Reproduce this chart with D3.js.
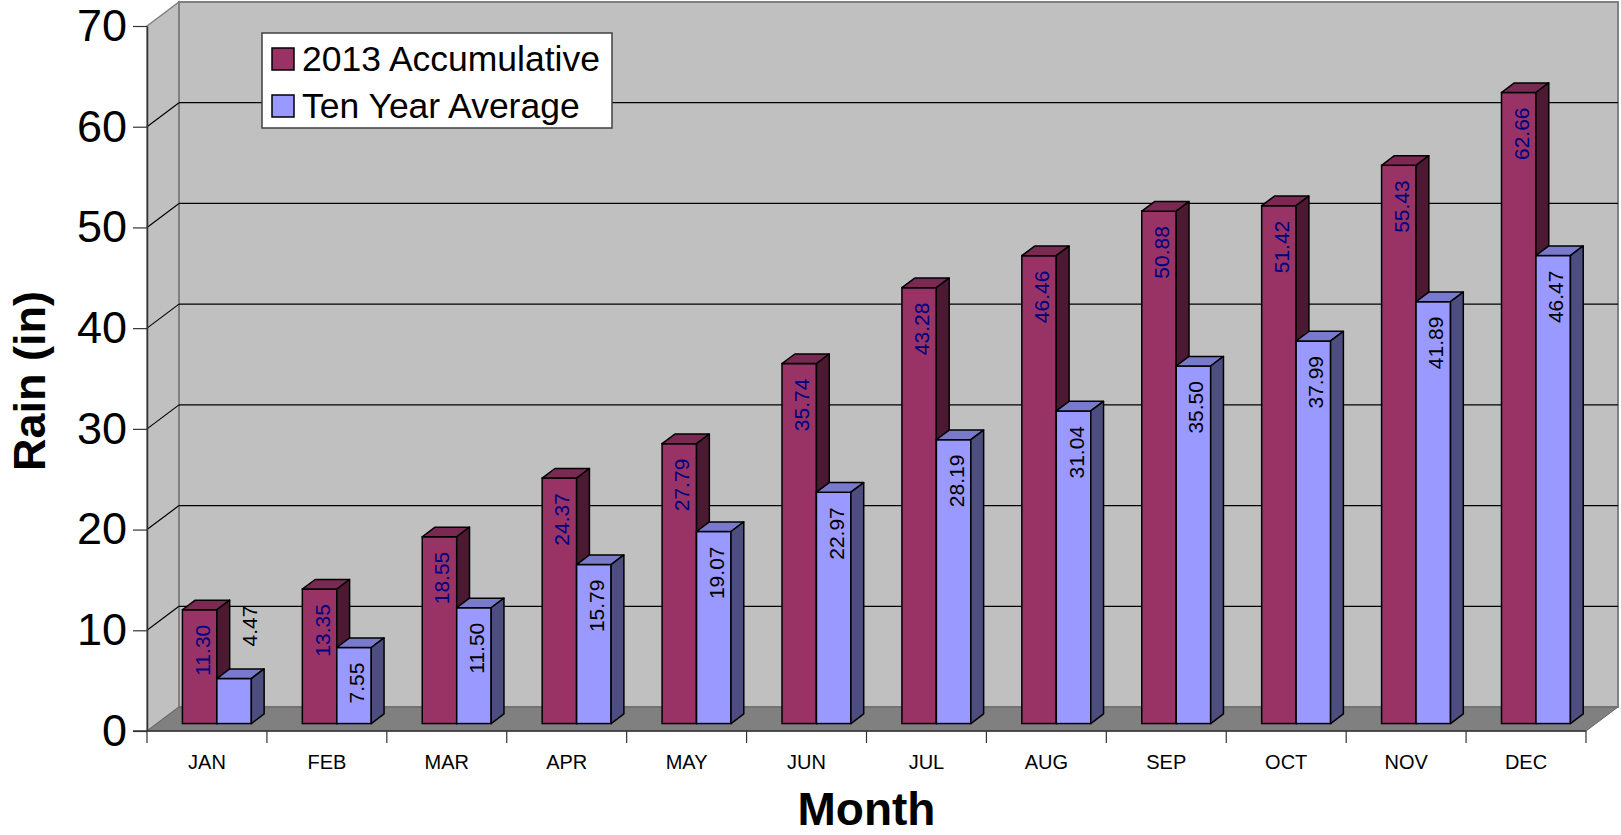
<!DOCTYPE html>
<html>
<head>
<meta charset="utf-8">
<script src="https://d3js.org/d3.v7.min.js"></script>
<style>
    body { margin: 0; background: #fff; }
    text { font-family: "Liberation Sans", Arial, sans-serif; }
</style>
</head>
<body>
<div id="chart"></div>
<script>
// rain data
var months = ["JAN", "FEB", "MAR", "APR", "MAY", "JUN", "JUL", "AUG", "SEP", "OCT", "NOV", "DEC"];
var seriesNames = ["2013 Accumulative", "Ten Year Average"];
var accum2013 = [11.30, 13.35, 18.55, 24.37, 27.79, 35.74, 43.28, 46.46, 50.88, 51.42, 55.43, 62.66];
var tenYearAvg = [4.47, 7.55, 11.50, 15.79, 19.07, 22.97, 28.19, 31.04, 35.50, 37.99, 41.89, 46.47];
var yTicks = [0, 10, 20, 30, 40, 50, 60, 70];

var w = 1621, h = 835;
var plotLeft = 147, plotRight = 1586, plotBottom = 731, plotTop = 26;
var depthX = 32, depthY = 24;     // 3d offset of back wall
var f0 = 0.31, f1 = 0.71;         // bars sit between these depth fractions

var faces = [
    {front: "#993366", top: "#7a2952", side: "#4c1933", label: "#000080"},
    {front: "#9999ff", top: "#7a7acc", side: "#4d4d80", label: "#000"}
];

var svg = d3.select("#chart").append("svg")
    .attr("width", w)
    .attr("height", h);

var y = d3.scaleLinear().domain([0, 70]).range([plotBottom, plotTop]);

var x0 = d3.scaleBand().domain(months).range([plotLeft, plotRight]).padding(0);
var x1 = d3.scaleBand().domain([0, 1]).range([0, x0.bandwidth()])
    .paddingInner(0).paddingOuter(0.74);

//Walls and floor
svg.append("polygon")
    .attr("points", [[plotLeft, y(70)], [plotLeft + depthX, y(70) - depthY], [plotLeft + depthX, y(0) - depthY], [plotLeft, y(0)]].join(" "))
    .style("fill", "#c0c0c0").style("stroke", "#808080").style("stroke-width", 1.5);

svg.append("rect")
    .attr("x", plotLeft + depthX).attr("y", y(70) - depthY)
    .attr("width", plotRight - plotLeft).attr("height", y(0) - y(70))
    .style("fill", "#c0c0c0").style("stroke", "#808080").style("stroke-width", 2);

svg.append("polygon")
    .attr("points", [[plotLeft, y(0)], [plotRight, y(0)], [plotRight + depthX, y(0) - depthY], [plotLeft + depthX, y(0) - depthY]].join(" "))
    .style("fill", "#808080").style("stroke", "#666").style("stroke-width", 1);

//Gridlines
var grid = yTicks.filter(function (d) { return d > 0 && d < 70; });
svg.selectAll(".gridBack").data(grid).enter().append("line")
    .attr("x1", plotLeft + depthX).attr("x2", plotRight + depthX)
    .attr("y1", function (d) { return y(d) - depthY; })
    .attr("y2", function (d) { return y(d) - depthY; })
    .style("stroke", "#000").style("stroke-width", 1.2);
svg.selectAll(".gridSide").data(grid).enter().append("line")
    .attr("x1", plotLeft).attr("x2", plotLeft + depthX)
    .attr("y1", function (d) { return y(d); })
    .attr("y2", function (d) { return y(d) - depthY; })
    .style("stroke", "#000").style("stroke-width", 1.2);

//Bars
var bars = [];
months.forEach(function (m, i) {
    [accum2013[i], tenYearAvg[i]].forEach(function (v, s) {
        bars.push({month: m, s: s, value: v});
    });
});

var ox0 = f0 * depthX, oy0 = f0 * depthY, ox1 = f1 * depthX, oy1 = f1 * depthY;

var g = svg.selectAll(".bar").data(bars).enter().append("g").attr("class", "bar");

function geom(d) {
    var xs = x0(d.month) + x1(d.s), bw = x1.bandwidth();
    return {xs: xs, bw: bw, yt: y(d.value), yb: y(0)};
}

g.append("rect")
    .attr("x", function (d) { return geom(d).xs + ox0; })
    .attr("y", function (d) { return geom(d).yt - oy0; })
    .attr("width", x1.bandwidth())
    .attr("height", function (d) { return y(0) - y(d.value); })
    .style("fill", function (d) { return faces[d.s].front; })
    .style("stroke", "#000").style("stroke-width", 1.5);

g.append("polygon")
    .attr("points", function (d) {
        var q = geom(d);
        return [[q.xs + ox0, q.yt - oy0], [q.xs + q.bw + ox0, q.yt - oy0],
            [q.xs + q.bw + ox1, q.yt - oy1], [q.xs + ox1, q.yt - oy1]].join(" ");
    })
    .style("fill", function (d) { return faces[d.s].top; })
    .style("stroke", "#000").style("stroke-width", 1.5).style("stroke-linejoin", "round");

g.append("polygon")
    .attr("points", function (d) {
        var q = geom(d);
        return [[q.xs + q.bw + ox0, q.yt - oy0], [q.xs + q.bw + ox1, q.yt - oy1],
            [q.xs + q.bw + ox1, q.yb - oy1], [q.xs + q.bw + ox0, q.yb - oy0]].join(" ");
    })
    .style("fill", function (d) { return faces[d.s].side; })
    .style("stroke", "#000").style("stroke-width", 1.5).style("stroke-linejoin", "round");

//Data labels, rotated, inside the bar top unless the bar is too short
svg.selectAll(".dataLabel").data(bars).enter().append("text")
    .attr("class", "dataLabel")
    .attr("transform", function (d) {
        var q = geom(d);
        var cx = q.xs + ox0 + q.bw / 2;
        var short = (q.yb - q.yt) < 60;
        if (short) return "translate(" + (cx + 23) + "," + (q.yt - oy0 - 32) + ") rotate(-90)";
        return "translate(" + (cx + 10) + "," + (q.yt - oy0 + 15) + ") rotate(-90)";
    })
    .attr("text-anchor", function (d) {
        var q = geom(d);
        return (q.yb - q.yt) < 60 ? "start" : "end";
    })
    .style("font-size", "21px")
    .style("fill", function (d) { return faces[d.s].label; })
    .text(function (d) { return d.value.toFixed(2); });

//Y axis
var yAxis = d3.axisLeft(y).tickValues(yTicks).tickSize(14).tickSizeOuter(0).tickPadding(6);
var yg = svg.append("g").attr("transform", "translate(" + plotLeft + ",0)").call(yAxis);
yg.select(".domain").style("stroke", "#333").style("stroke-width", 1.5);
yg.selectAll(".tick line").style("stroke", "#333").style("stroke-width", 1.2);
yg.selectAll(".tick text")
    .style("font-size", "45px")
    .style("font-family", "'Liberation Sans', Arial, sans-serif")
    .style("fill", "#000");

//X axis: boundary ticks and centred month names
svg.append("line")
    .attr("x1", plotLeft - 14).attr("x2", plotRight)
    .attr("y1", plotBottom).attr("y2", plotBottom)
    .style("stroke", "#333").style("stroke-width", 1.5);
var bounds = months.map(function (m) { return x0(m); }).concat([plotRight]);
svg.selectAll(".xTick").data(bounds).enter().append("line")
    .attr("x1", function (d) { return d; }).attr("x2", function (d) { return d; })
    .attr("y1", plotBottom).attr("y2", plotBottom + 12)
    .style("stroke", "#333").style("stroke-width", 1.2);
svg.selectAll(".xLabel").data(months).enter().append("text")
    .attr("x", function (d) { return x0(d) + x0.bandwidth() / 2; })
    .attr("y", 769)
    .attr("text-anchor", "middle")
    .style("font-size", "20px")
    .text(function (d) { return d; });

//Axis titles
svg.append("text")
    .attr("x", (plotLeft + plotRight) / 2)
    .attr("y", 825)
    .attr("text-anchor", "middle")
    .style("font-size", "46px").style("font-weight", "bold")
    .text("Month");

svg.append("text")
    .attr("transform", "translate(45," + 381 + ") rotate(-90)")
    .attr("text-anchor", "middle")
    .style("font-size", "45px").style("font-weight", "bold")
    .text("Rain (in)");

//Legend
var legend = svg.append("g").attr("class", "legend").attr("transform", "translate(262,33)");
legend.append("rect")
    .attr("width", 350).attr("height", 95)
    .style("fill", "#fff").style("stroke", "#404040").style("stroke-width", 1.5);
var items = legend.selectAll(".item").data(seriesNames).enter().append("g")
    .attr("transform", function (d, i) { return "translate(10," + (15 + i * 47) + ")"; });
items.append("rect")
    .attr("width", 22).attr("height", 22)
    .style("fill", function (d, i) { return faces[i].front; })
    .style("stroke", "#000").style("stroke-width", 1.5);
items.append("text")
    .attr("x", 30).attr("y", 23)
    .style("font-size", "35.5px")
    .text(function (d) { return d; });
</script>
</body>
</html>
